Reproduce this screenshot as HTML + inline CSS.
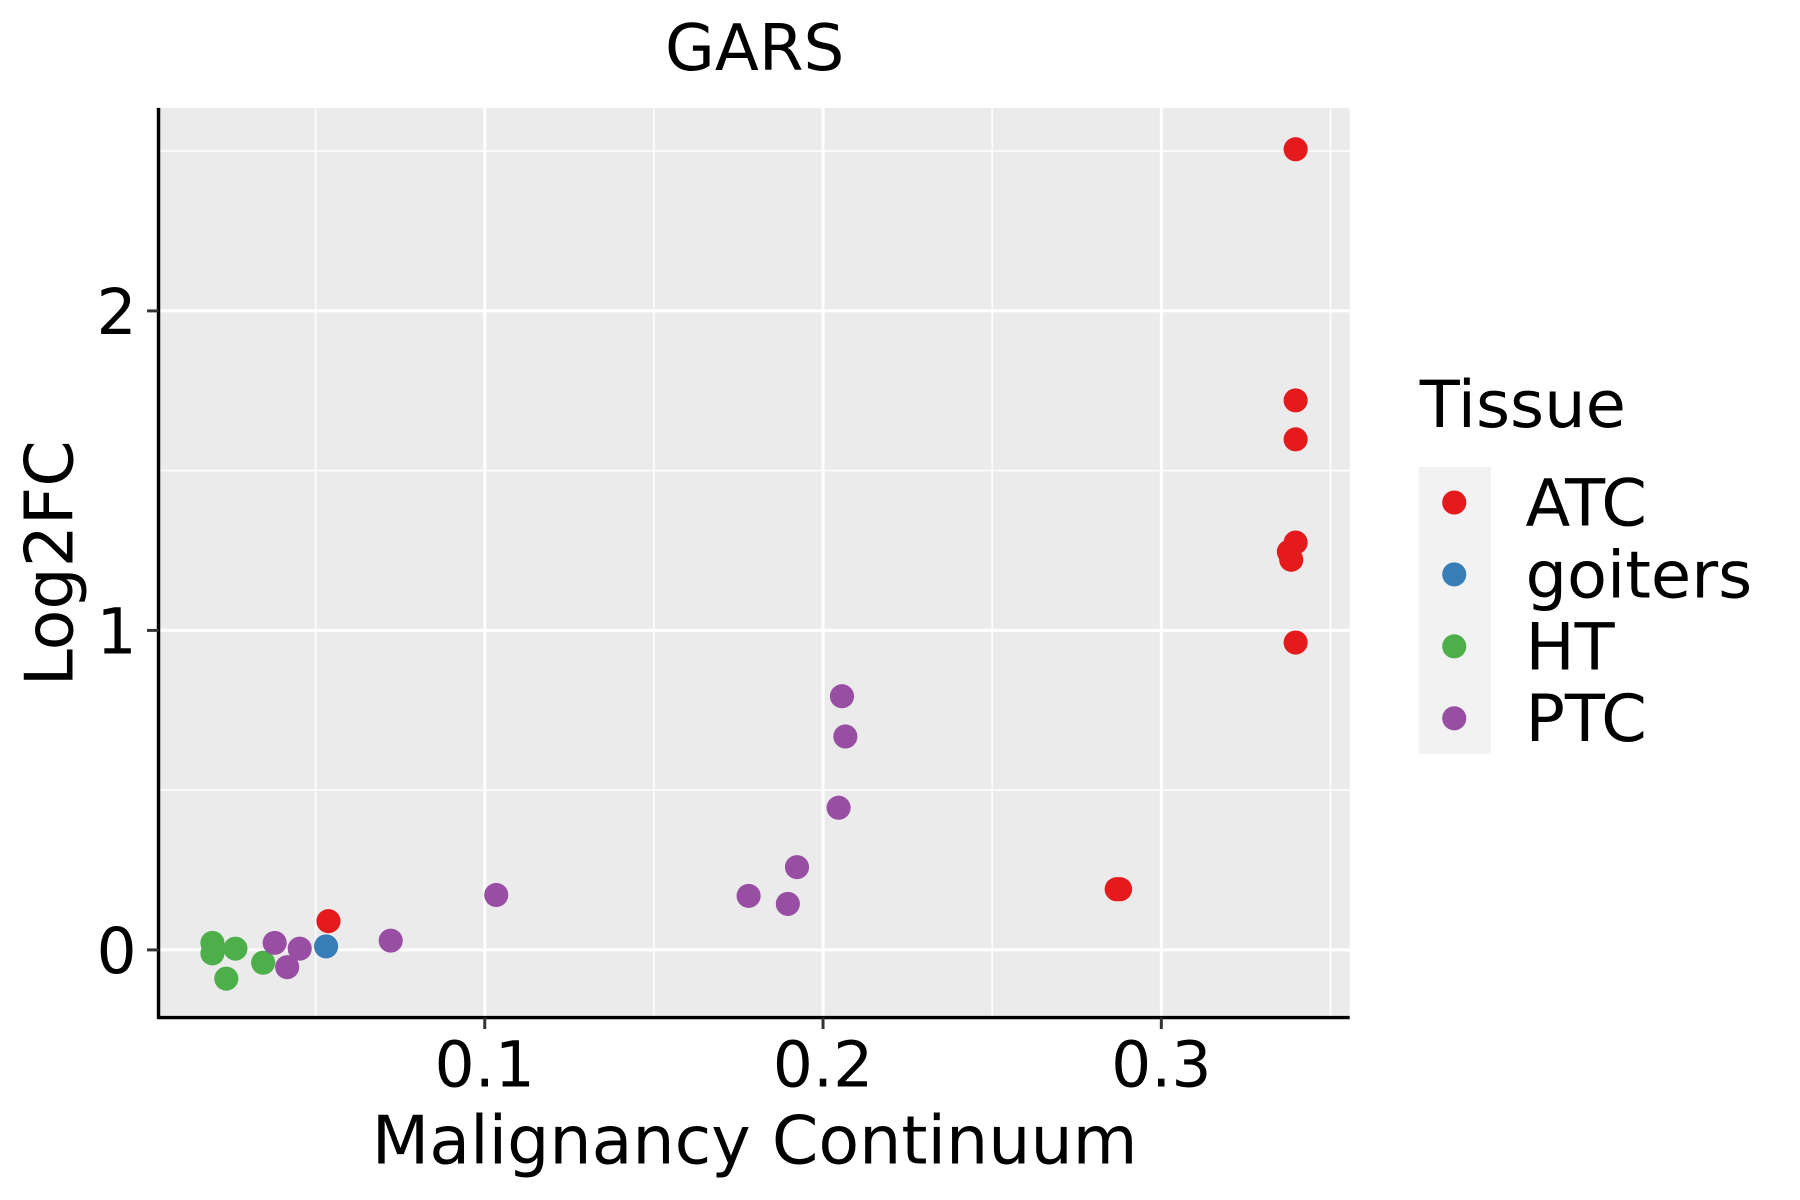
<!DOCTYPE html>
<html><head><meta charset="utf-8"><style>
html,body{margin:0;padding:0;background:#fff;}
svg{display:block;font-family:"DejaVu Sans","Liberation Sans",sans-serif;}
</style></head><body>
<svg id="chart" width="1800" height="1200" viewBox="0 0 1567 1046" preserveAspectRatio="none" xmlns="http://www.w3.org/2000/svg">
<rect x="0" y="0" width="1567" height="1046" fill="#fff"/>
<text x="657" y="61" font-size="56" text-anchor="middle">GARS</text>
<rect x="138" y="94" width="1037" height="793" fill="#ebebeb"/>
<g id="grid"></g>
<g id="points"></g>
<line x1="138" y1="94" x2="138" y2="888" stroke="#000" stroke-width="3"/>
<line x1="137" y1="887" x2="1175" y2="887" stroke="#000" stroke-width="3"/>
<g id="ticks"></g>
<text x="657" y="1014" font-size="58" text-anchor="middle">Malignancy Continuum</text>
<text transform="translate(63,491) rotate(-90)" font-size="58" text-anchor="middle">Log2FC</text>
<text x="1236" y="372" font-size="57">Tissue</text>
<rect x="1235" y="407" width="63" height="250" fill="#f2f2f2"/>
<g id="legend"></g>
</svg>
<script>
const categories = ["ATC","goiters","HT","PTC"];
const colors = ["#e41a1c","#377eb8","#4daf4a","#984ea3"];
const xTicks = [0.1,0.2,0.3];
const xTickLabels = ["0.1","0.2","0.3"];
const yTicks = [0,1,2];
const yTickLabels = ["0","1","2"];
const xMinor = [0.05,0.15,0.25,0.35];
const yMinor = [0.5,1.5,2.5];
const ptGroup = ["ATC","ATC","ATC","ATC","ATC","ATC","ATC","ATC","ATC","ATC","goiters","HT","HT","HT","HT","HT","PTC","PTC","PTC","PTC","PTC","PTC","PTC","PTC","PTC","PTC","PTC"];
const ptX = [0.3397,0.3397,0.3397,0.3397,0.3377,0.3384,0.3397,0.2868,0.2878,0.0538,0.0531,0.0195,0.0195,0.0263,0.0236,0.0345,0.0379,0.0453,0.0416,0.0722,0.1034,0.178,0.1896,0.1923,0.2046,0.2056,0.2066];
const ptY = [2.506,1.72,1.598,1.275,1.246,1.221,0.962,0.19,0.19,0.09,0.011,0.022,-0.011,0.004,-0.09,-0.04,0.022,0.004,-0.054,0.029,0.172,0.169,0.144,0.259,0.445,0.794,0.668];

const NS="http://www.w3.org/2000/svg";
function sx(v){return 127.5+v*2945;}
function sy(v){return 828-v*278.5;}
function mk(tag,attrs,parent){const e=document.createElementNS(NS,tag);for(const k in attrs)e.setAttribute(k,attrs[k]);parent.appendChild(e);return e;}
const grid=document.getElementById('grid'),pts=document.getElementById('points'),ticks=document.getElementById('ticks'),leg=document.getElementById('legend');
xMinor.forEach(v=>{const l=mk('line',{x1:sx(v),x2:sx(v),y1:94,y2:887,stroke:'#fff','stroke-width':1.3},grid);

});
yMinor.forEach(v=>{const l=mk('line',{x1:138,x2:1175,y1:sy(v),y2:sy(v),stroke:'#fff','stroke-width':1.3},grid);

});
xTicks.forEach((v,i)=>{const l=mk('line',{x1:sx(v),x2:sx(v),y1:94,y2:887,stroke:'#fff','stroke-width':2.6},grid);


const t=mk('line',{x1:sx(v),x2:sx(v),y1:887,y2:897,stroke:'#333','stroke-width':2.6},ticks);


const tx=mk('text',{x:sx(v),y:947,'font-size':55,'text-anchor':'middle',fill:'#000'},ticks);tx.textContent=xTickLabels[i];

});
yTicks.forEach((v,i)=>{const l=mk('line',{x1:138,x2:1175,y1:sy(v),y2:sy(v),stroke:'#fff','stroke-width':2.6},grid);


const t=mk('line',{x1:128,x2:138,y1:sy(v),y2:sy(v),stroke:'#333','stroke-width':2.6},ticks);


const tx=mk('text',{x:119,y:sy(v)+20,'font-size':55,'text-anchor':'end',fill:'#000'},ticks);tx.textContent=yTickLabels[i];

});
ptX.forEach((x,i)=>{const c=mk('circle',{cx:sx(x),cy:sy(ptY[i]),r:10.5,fill:colors[categories.indexOf(ptGroup[i])]},pts);

});
categories.forEach((c,i)=>{const y=438+i*62.7;
const d=mk('circle',{cx:1266,cy:y,r:10.5,fill:colors[i]},leg);


const t=mk('text',{x:1328,y:y+20,'font-size':57},leg);t.textContent=c;

});
</script>
</body></html>
